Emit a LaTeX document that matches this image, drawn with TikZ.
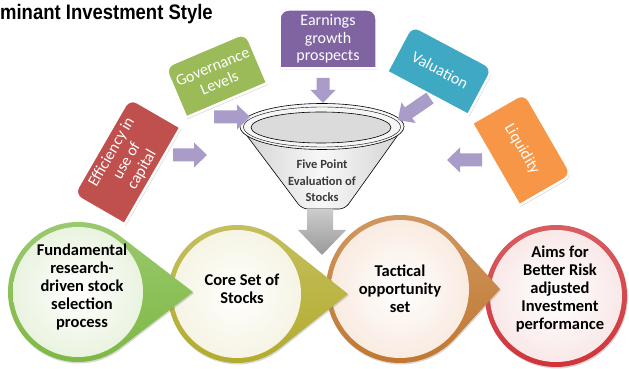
\documentclass[tikz,border=0pt]{standalone}
\usepackage{fontspec}
\newfontfamily\carlito{Carlito}
\newfontfamily\arialf{Liberation Sans}
\usetikzlibrary{shadows,calc}
\definecolor{bRed}{HTML}{C0504D}
\definecolor{bGreen}{HTML}{9BBB59}
\definecolor{bPurple}{HTML}{8064A2}
\definecolor{bTeal}{HTML}{3FA9C4}
\definecolor{bOrange}{HTML}{F79646}
\definecolor{arrowLav}{HTML}{A99CC9}
\definecolor{ringGreen}{HTML}{7CB842}
\definecolor{tintGreen}{HTML}{EAF3E0}
\definecolor{ringOlive}{HTML}{B2AB2C}
\definecolor{tintOlive}{HTML}{F6F4E4}
\definecolor{ringOrange}{HTML}{C0772F}
\definecolor{tintOrange}{HTML}{F9EBE1}
\definecolor{ringRed}{HTML}{D0343A}
\definecolor{tintRed}{HTML}{F9E8E8}
\definecolor{funText}{HTML}{3A3A3A}
\tikzset{
  boxshape/.style={fill=#1, draw=white, line width=2.5pt,
    drop shadow={shadow xshift=1.2pt, shadow yshift=-1.5pt, opacity=0.35}},
  boxtext/.style={text=white, font=\carlito\fontsize{16}{17.5}\selectfont, align=center, inner sep=0pt},
  circtext/.style={text=black, font=\carlito\bfseries\fontsize{16.5}{18.2}\selectfont, align=center, inner sep=0pt},
  lavarrow/.style={fill=arrowLav},
  funline/.style={draw=black, line width=0.6pt},
  circshadow/.style={drop shadow={shadow xshift=0.8pt, shadow yshift=-1.5pt, opacity=0.3}},
}
\newcommand\tabbox[7]{%
  \begin{scope}[shift={#2}, rotate=#3]
    \path[boxshape=#6] (-#4/2,-#5/2) -- (-#4/2,#5/2-9)
      arc[start angle=180,end angle=90,radius=9] -- (#4/2-9,#5/2)
      arc[start angle=90,end angle=0,radius=9] -- (#4/2,-#5/2) -- cycle;
    \node[boxtext, rotate=#3] (#1) at (0,0) {#7};
  \end{scope}}
\newcommand\lavarr[3]{%
  \begin{scope}[shift={#1}, rotate=#2]
    \fill[lavarrow] (0,-6.5) -- ({#3-13},-6.5) -- ({#3-13},-12.5) -- (#3,0)
      -- ({#3-13},12.5) -- ({#3-13},6.5) -- (0,6.5) -- cycle;
  \end{scope}}
\newcommand\ptcircle[6]{%
  \pgfmathsetmacro\ang{acos(#3/(#4-#1))}%
  \path[top color=#5!75!white, bottom color=#5, circshadow]
    (#1,#2) ++(\ang:#3) arc[start angle=\ang, end angle={360-\ang}, radius=#3] -- (#4,#2) -- cycle;
  \shade[inner color=white, outer color=#6] (#1,#2) circle[radius=#3-5];}
\begin{document}
\begin{tikzpicture}[x=1pt,y=1pt]
\fill[white] (0,0) rectangle (629,369);
\useasboundingbox (0,0) rectangle (629,369);
% title
\node[anchor=base west, inner sep=0pt, font=\arialf\bfseries\fontsize{21}{21}\selectfont, xscale=0.88] (title) at (0,349.5) {minant Investment Style};
% criteria boxes
\tabbox{eff}{(127,208)}{60}{112}{59}{bRed}{Efficiency in\\use of\\capital}
\tabbox{gov}{(216,294)}{23}{88}{55}{bGreen}{Governance\\Levels}
\tabbox{earn}{(328,330)}{0}{97}{59}{bPurple}{Earnings\\growth\\prospects}
\tabbox{val}{(440,299)}{-28}{92}{53}{bTeal}{Valuation}
\tabbox{liq}{(522,220)}{-60}{95}{61}{bOrange}{Liquidity}
% funnel
\path[funline, left color=gray!35, right color=gray!35, middle color=gray!6, rounded corners=6]
  (240,242.5) -- (302,160) -- (345,160) -- (404,242.5) -- cycle;
\path[funline, fill=gray!8] (322,242.5) ellipse[x radius=82, y radius=23];
\path[draw=black, line width=0.4pt] (322,242) ellipse[x radius=78.5, y radius=20];
\path[funline, fill=gray!28] (321,241.5) ellipse[x radius=70, y radius=15.5];
% lavender arrows
\lavarr{(173,214)}{0}{34}
\lavarr{(214,252)}{0}{36}
\lavarr{(323,291)}{-90}{25}
\lavarr{(430,271)}{214.5}{39}
\lavarr{(482,209)}{180}{35}
% stage circles (right to left so pointers overlap)
\path[top color=ringRed!80!white, bottom color=ringRed, circshadow] (556,73) circle[radius=71];
\shade[inner color=white, outer color=tintRed] (556,73) circle[radius=66];
\ptcircle{400}{80}{74}{500}{ringOrange}{tintOrange}
\ptcircle{237}{75}{69}{348}{ringOlive}{tintOlive}
\ptcircle{78}{77}{70}{193}{ringGreen}{tintGreen}
% gray arrow
\shade[top color=gray!40, bottom color=gray!80]
  (307,160) -- (333,160) -- (333,139) -- (346,139) -- (322,114) -- (298,139) -- (307,139) -- cycle;
% texts
\node[font=\carlito\bfseries\fontsize{12.5}{16.5}\selectfont, text=funText, align=center, inner sep=0pt] (funtext) at (322,188) {Five Point\\Evaluation of\\Stocks};
\node[circtext] (c1) at (82,82) {Fundamental\\research-\\driven stock\\selection\\process};
\node[circtext] (c2) at (242,80) {Core Set of\\Stocks};
\node[circtext] (c3) at (400,80) {Tactical\\opportunity\\set};
\node[circtext] (c4) at (560,80) {Aims for\\Better Risk\\adjusted\\Investment\\performance};
\end{tikzpicture}
\end{document}
